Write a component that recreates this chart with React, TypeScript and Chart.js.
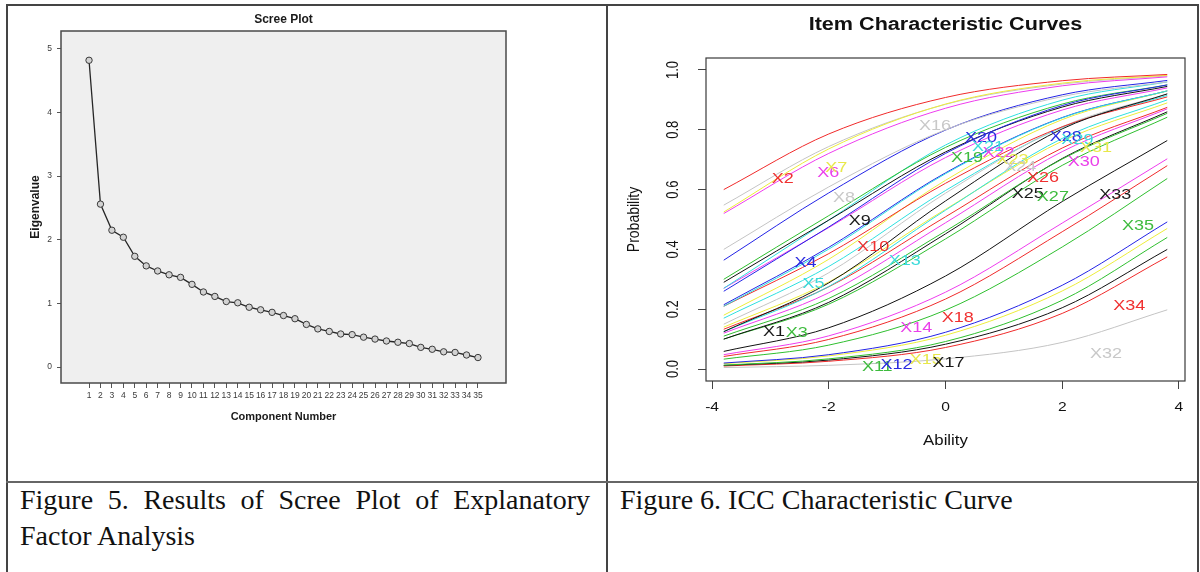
import { useEffect, useRef } from "react";
import { Chart, registerables } from "chart.js";

Chart.register(...registerables);

// ---------- Scree plot data ----------
const componentNumbers = [
  1, 2, 3, 4, 5, 6, 7, 8, 9, 10, 11, 12, 13, 14, 15, 16, 17, 18, 19, 20, 21, 22, 23, 24, 25, 26, 27, 28, 29, 30, 31, 32, 33, 34, 35,
];
const eigenvalues = [
  4.82, 2.56, 2.15, 2.04, 1.74, 1.59, 1.51, 1.45, 1.41, 1.3, 1.18, 1.11, 1.03, 1.01, 0.94, 0.9, 0.86, 0.81, 0.76, 0.67, 0.6,
  0.56, 0.52, 0.51, 0.47, 0.44, 0.41, 0.39, 0.37, 0.31, 0.28, 0.24, 0.23, 0.19, 0.15,
];
const screeYTicks = [0, 1, 2, 3, 4, 5];

// ---------- ICC data ----------
const abilityGrid = [-3.8, -2, 0, 2, 3.8];
const itemNames = [
  "X1", "X2", "X3", "X4", "X5", "X6", "X7", "X8", "X9", "X10", "X11", "X12", "X13", "X14", "X15", "X16", "X17", "X18",
  "X19", "X20", "X21", "X22", "X23", "X24", "X25", "X26", "X27", "X28", "X29", "X30", "X31", "X32", "X33", "X34", "X35",
];
const itemProbs = [
  [0.125, 0.288, 0.562, 0.803, 0.92],
  [0.6, 0.786, 0.908, 0.964, 0.985],
  [0.11, 0.236, 0.461, 0.702, 0.855],
  [0.26, 0.475, 0.721, 0.881, 0.95],
  [0.21, 0.401, 0.653, 0.84, 0.93],
  [0.52, 0.721, 0.872, 0.947, 0.977],
  [0.525, 0.736, 0.886, 0.956, 0.982],
  [0.4, 0.609, 0.8, 0.911, 0.96],
  [0.29, 0.498, 0.726, 0.876, 0.945],
  [0.21, 0.386, 0.621, 0.81, 0.91],
  [0.013, 0.034, 0.092, 0.23, 0.44],
  [0.02, 0.048, 0.123, 0.28, 0.492],
  [0.125, 0.276, 0.531, 0.771, 0.9],
  [0.048, 0.111, 0.257, 0.488, 0.703],
  [0.018, 0.044, 0.113, 0.261, 0.47],
  [0.548, 0.744, 0.885, 0.953, 0.98],
  [0.012, 0.03, 0.083, 0.205, 0.4],
  [0.042, 0.099, 0.234, 0.459, 0.68],
  [0.3, 0.513, 0.741, 0.886, 0.95],
  [0.364, 0.589, 0.799, 0.917, 0.965],
  [0.27, 0.498, 0.749, 0.899, 0.96],
  [0.27, 0.473, 0.707, 0.866, 0.94],
  [0.18, 0.367, 0.631, 0.834, 0.93],
  [0.15, 0.322, 0.588, 0.81, 0.92],
  [0.1, 0.223, 0.452, 0.704, 0.86],
  [0.133, 0.275, 0.509, 0.739, 0.875],
  [0.1, 0.217, 0.435, 0.681, 0.842],
  [0.215, 0.407, 0.656, 0.841, 0.93],
  [0.17, 0.343, 0.597, 0.808, 0.915],
  [0.12, 0.255, 0.489, 0.727, 0.87],
  [0.14, 0.291, 0.534, 0.762, 0.89],
  [0.005, 0.0125, 0.034, 0.089, 0.198],
  [0.059, 0.138, 0.311, 0.56, 0.764],
  [0.01, 0.026, 0.072, 0.186, 0.375],
  [0.033, 0.08, 0.197, 0.408, 0.637],
];
const labelAbility = [
  -2.94, -2.79, -2.55, -2.4, -2.26, -2.01, -1.87, -1.74, -1.47, -1.24, -1.17, -0.84, -0.7, -0.5, -0.34, -0.18, 0.05, 0.21,
  0.37, 0.61, 0.73, 0.91, 1.15, 1.28, 1.41, 1.67, 1.84, 2.06, 2.26, 2.37, 2.58, 2.75, 2.91, 3.15, 3.3,
];
const labelProb = [
  0.124, 0.637, 0.122, 0.356, 0.286, 0.656, 0.673, 0.574, 0.497, 0.409, 0.006, 0.013, 0.361, 0.139, 0.03, 0.813, 0.022,
  0.172, 0.706, 0.772, 0.744, 0.722, 0.7, 0.675, 0.586, 0.639, 0.576, 0.776, 0.767, 0.694, 0.741, 0.052, 0.583, 0.211, 0.48,
];
const iccXTicks = [-4, -2, 0, 2, 4];
const iccXTickLabels = ["-4", "-2", "0", "2", "4"];
const iccYTicks = [0, 0.2, 0.4, 0.6, 0.8, 1.0];
const iccYTickLabels = ["0.0", "0.2", "0.4", "0.6", "0.8", "1.0"];
const lineColors = ["#111111", "#f02a2a", "#2fbf2f", "#2323e6", "#2ee0e0", "#ee3cee", "#eded3a", "#c4c4c4"];
const textColors = ["#1a1a1a", "#f03030", "#3dbb3d", "#2b2be0", "#3adada", "#ea40ea", "#e8e84a", "#c8c8c8"];

const SANS = '"Liberation Sans", Arial, Helvetica, sans-serif';
const STRETCH = 1.2;

function drawStretched(ctx: CanvasRenderingContext2D, text: string, x: number, y: number, rotate: boolean) {
  ctx.save();
  ctx.translate(x, y);
  ctx.scale(STRETCH, 1);
  if (rotate) ctx.rotate(-Math.PI / 2);
  ctx.fillText(text, 0, 0);
  ctx.restore();
}

const screeDecor = {
  id: "screeDecor",
  beforeDatasetsDraw(chart: any) {
    const { ctx, chartArea: a } = chart;
    ctx.save();
    ctx.fillStyle = "#efefef";
    ctx.fillRect(a.left, a.top, a.right - a.left, a.bottom - a.top);
    ctx.restore();
  },
  afterDraw(chart: any) {
    const { ctx, chartArea: a } = chart;
    ctx.save();
    ctx.strokeStyle = "#4a4a4a";
    ctx.lineWidth = 1.5;
    ctx.strokeRect(a.left, a.top, a.right - a.left, a.bottom - a.top);
    ctx.fillStyle = "#1a1a1a";
    ctx.textAlign = "center";
    ctx.textBaseline = "middle";
    ctx.font = `bold 12px ${SANS}`;
    ctx.fillText("Scree Plot", (a.left + a.right) / 2, a.top - 11);
    ctx.font = `bold 11px ${SANS}`;
    ctx.fillText("Component Number", (a.left + a.right) / 2, a.bottom + 34);
    ctx.translate(a.left - 25, (a.top + a.bottom) / 2);
    ctx.rotate(-Math.PI / 2);
    ctx.font = `bold 12px ${SANS}`;
    ctx.fillText("Eigenvalue", 0, 0);
    ctx.restore();
  },
};

const iccDecor = {
  id: "iccDecor",
  afterDatasetsDraw(chart: any) {
    const { ctx, scales } = chart;
    ctx.save();
    ctx.font = `15px ${SANS}`;
    ctx.textAlign = "center";
    ctx.textBaseline = "middle";
    itemNames.forEach((name, i) => {
      ctx.fillStyle = textColors[i % textColors.length];
      drawStretched(ctx, name, scales.x.getPixelForValue(labelAbility[i]), scales.y.getPixelForValue(labelProb[i]), false);
    });
    ctx.restore();
  },
  afterDraw(chart: any) {
    const { ctx, chartArea: a, scales } = chart;
    ctx.save();
    ctx.strokeStyle = "#3a3a3a";
    ctx.lineWidth = 1.2;
    ctx.strokeRect(a.left, a.top, a.right - a.left, a.bottom - a.top);
    ctx.fillStyle = "#111";
    ctx.textAlign = "center";
    ctx.textBaseline = "middle";
    ctx.font = `bold 18px ${SANS}`;
    drawStretched(ctx, "Item Characteristic Curves", (a.left + a.right) / 2, a.top - 33, false);
    ctx.font = `14px ${SANS}`;
    drawStretched(ctx, "Ability", (a.left + a.right) / 2, a.bottom + 60, false);
    drawStretched(ctx, "Probability", a.left - 72, (a.top + a.bottom) / 2, true);
    ctx.font = `13px ${SANS}`;
    iccYTicks.forEach((v, i) => {
      drawStretched(ctx, iccYTickLabels[i], a.left - 32, scales.y.getPixelForValue(v), true);
    });
    iccXTicks.forEach((v, i) => {
      drawStretched(ctx, iccXTickLabels[i], scales.x.getPixelForValue(v), a.bottom + 26, false);
    });
    ctx.restore();
  },
};

export default function App() {
  const screeRef = useRef<HTMLCanvasElement>(null);
  const iccRef = useRef<HTMLCanvasElement>(null);

  useEffect(() => {
    Chart.defaults.font.family = SANS;
    const scree = new Chart(screeRef.current!, {
      type: "line",
      data: {
        datasets: [
          {
            data: componentNumbers.map((c, i) => ({ x: c, y: eigenvalues[i] })),
            borderColor: "#262626",
            borderWidth: 1.3,
            pointRadius: 3.2,
            pointBackgroundColor: "#d2d2d2",
            pointBorderColor: "#3a3a3a",
            pointBorderWidth: 1,
            tension: 0,
          },
        ],
      },
      options: {
        animation: false,
        responsive: false,
        events: [],
        layout: { padding: { top: 25, right: 98, left: 23, bottom: 55 } },
        plugins: { legend: { display: false }, tooltip: { enabled: false } },
        scales: {
          x: {
            type: "linear",
            min: -1.45,
            max: 37.45,
            afterBuildTicks: (axis: any) => {
              axis.ticks = componentNumbers.map((v) => ({ value: v }));
            },
            afterFit: (s: any) => {
              s.height = 40;
            },
            grid: { drawOnChartArea: false, tickLength: 5, color: "#555" },
            border: { display: false },
            ticks: {
              autoSkip: false,
              maxRotation: 0,
              minRotation: 0,
              padding: 3,
              color: "#3a3a3a",
              font: { size: 8.5 },
              callback: (v: any) => String(v),
            },
          },
          y: {
            min: -0.25,
            max: 5.28,
            afterBuildTicks: (axis: any) => {
              axis.ticks = screeYTicks.map((v) => ({ value: v }));
            },
            afterFit: (s: any) => {
              s.width = 30;
            },
            grid: { drawOnChartArea: false, tickLength: 4, color: "#555" },
            border: { display: false },
            ticks: { padding: 5, color: "#3a3a3a", font: { size: 8.5 }, callback: (v: any) => String(v) },
          },
        },
      },
      plugins: [screeDecor],
    } as any);

    const icc = new Chart(iccRef.current!, {
      type: "line",
      data: {
        datasets: itemNames.map((name, i) => ({
          label: name,
          data: abilityGrid.map((x, j) => ({ x, y: itemProbs[i][j] })),
          borderColor: lineColors[i % lineColors.length],
          borderWidth: 1,
          pointRadius: 0,
          cubicInterpolationMode: "monotone",
        })),
      },
      options: {
        animation: false,
        responsive: false,
        events: [],
        layout: { padding: { top: 52, right: 11, left: 18, bottom: 37 } },
        plugins: { legend: { display: false }, tooltip: { enabled: false } },
        scales: {
          x: {
            type: "linear",
            min: -4.104,
            max: 4.104,
            afterBuildTicks: (axis: any) => {
              axis.ticks = iccXTicks.map((v) => ({ value: v }));
            },
            afterFit: (s: any) => {
              s.height = 60;
            },
            grid: { drawOnChartArea: false, tickLength: 8, color: "#444" },
            border: { display: false },
            ticks: { display: false },
          },
          y: {
            min: -0.04,
            max: 1.04,
            afterBuildTicks: (axis: any) => {
              axis.ticks = iccYTicks.map((v) => ({ value: v }));
            },
            afterFit: (s: any) => {
              s.width = 80;
            },
            grid: { drawOnChartArea: false, tickLength: 8, color: "#444" },
            border: { display: false },
            ticks: { display: false },
          },
        },
      },
      plugins: [iccDecor],
    } as any);

    return () => {
      scree.destroy();
      icc.destroy();
    };
  }, []);

  const line = (style: React.CSSProperties) => <div style={{ position: "absolute", background: "#444", ...style }} />;
  const caption: React.CSSProperties = {
    position: "absolute",
    top: 482,
    fontFamily: '"Liberation Serif", "Times New Roman", serif',
    fontSize: 28,
    lineHeight: "36px",
    color: "#111",
  };

  return (
    <div style={{ position: "absolute", left: 0, top: 0, width: 1200, height: 572, background: "#fff", overflow: "hidden" }}>
      <canvas ref={screeRef} width={596} height={472} style={{ position: "absolute", left: 8, top: 6 }} />
      <canvas ref={iccRef} width={588} height={472} style={{ position: "absolute", left: 608, top: 6 }} />
      {line({ left: 6, top: 4, width: 1192, height: 1.5 })}
      {line({ left: 6, top: 4, width: 1.5, height: 568 })}
      {line({ left: 606, top: 4, width: 1.5, height: 568 })}
      {line({ left: 1197, top: 4, width: 1.5, height: 568 })}
      {line({ left: 6, top: 481, width: 1192, height: 2, background: "#666" })}
      <div style={{ ...caption, left: 20, width: 570, textAlign: "justify" }}>
        Figure 5. Results of Scree Plot of Explanatory Factor Analysis
      </div>
      <div style={{ ...caption, left: 620, width: 570 }}>Figure 6. ICC Characteristic Curve</div>
    </div>
  );
}
